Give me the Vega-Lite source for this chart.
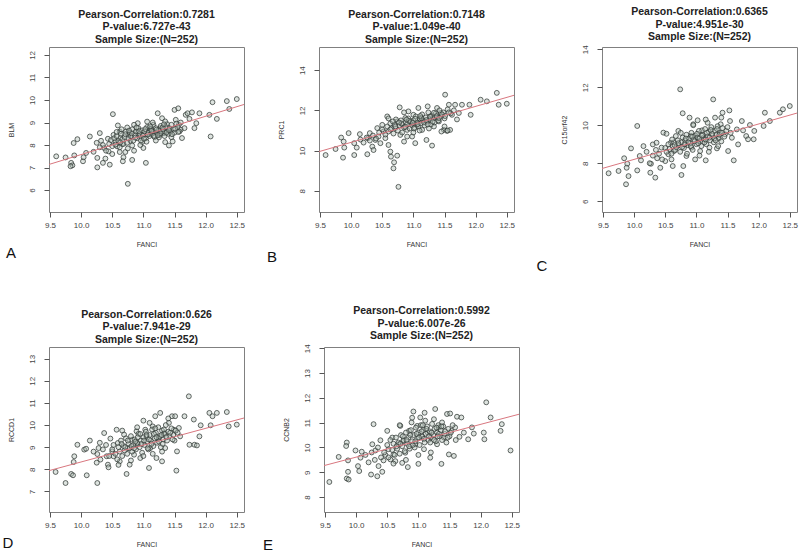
{
"$schema": "https://vega.github.io/schema/vega-lite/v6.json",
"background": "white",
"padding": {"left": 2, "top": 6, "right": 0, "bottom": 0},
"spacing": 30,
"datasets": {
"A": [
{"x":9.60,"y":7.50},{"x":9.75,"y":7.45},{"x":9.89,"y":7.54},{"x":9.88,"y":8.09},{"x":9.94,"y":8.26},{"x":9.84,"y":7.21},{"x":9.86,"y":7.10},{"x":9.83,"y":7.06},{"x":10.03,"y":7.28},{"x":10.04,"y":7.46},{"x":10.08,"y":7.65},{"x":10.14,"y":8.38},{"x":10.26,"y":7.43},{"x":10.26,"y":7.01},{"x":10.30,"y":8.53},{"x":10.32,"y":8.19},{"x":10.35,"y":7.21},{"x":10.39,"y":7.40},{"x":10.37,"y":7.87},{"x":10.43,"y":8.28},{"x":10.46,"y":7.13},{"x":10.44,"y":7.72},{"x":10.51,"y":9.37},{"x":10.52,"y":8.45},{"x":10.55,"y":8.16},{"x":10.58,"y":7.94},{"x":10.59,"y":8.87},{"x":10.62,"y":8.60},{"x":10.63,"y":8.31},{"x":10.66,"y":8.04},{"x":10.62,"y":7.69},{"x":10.68,"y":7.46},{"x":10.71,"y":7.69},{"x":10.67,"y":7.28},{"x":10.75,"y":6.28},{"x":10.74,"y":8.78},{"x":10.76,"y":8.45},{"x":10.79,"y":8.19},{"x":10.82,"y":7.98},{"x":10.85,"y":7.75},{"x":10.82,"y":7.34},{"x":10.90,"y":8.60},{"x":10.91,"y":8.97},{"x":10.95,"y":8.38},{"x":10.98,"y":8.13},{"x":11.00,"y":7.87},{"x":11.04,"y":7.21},{"x":11.06,"y":9.04},{"x":11.09,"y":8.75},{"x":11.11,"y":8.48},{"x":11.16,"y":8.90},{"x":11.19,"y":8.57},{"x":11.23,"y":9.41},{"x":11.25,"y":8.34},{"x":11.27,"y":8.75},{"x":11.30,"y":9.19},{"x":11.33,"y":8.53},{"x":11.35,"y":8.13},{"x":11.38,"y":8.93},{"x":11.41,"y":7.98},{"x":11.43,"y":8.60},{"x":11.47,"y":8.16},{"x":11.50,"y":9.56},{"x":11.52,"y":9.12},{"x":11.56,"y":9.63},{"x":11.57,"y":8.90},{"x":11.60,"y":8.68},{"x":11.62,"y":8.31},{"x":11.66,"y":8.75},{"x":11.68,"y":9.34},{"x":11.71,"y":9.41},{"x":11.74,"y":9.16},{"x":11.78,"y":9.45},{"x":11.82,"y":8.75},{"x":11.85,"y":8.97},{"x":11.90,"y":9.41},{"x":12.06,"y":9.34},{"x":12.08,"y":8.38},{"x":12.11,"y":9.90},{"x":12.18,"y":9.16},{"x":12.34,"y":9.95},{"x":12.38,"y":9.60},{"x":12.50,"y":10.04},
{"x":10.45,"y":8.05},{"x":10.48,"y":8.22},{"x":10.50,"y":7.95},{"x":10.53,"y":8.30},{"x":10.55,"y":8.02},{"x":10.57,"y":8.40},{"x":10.60,"y":8.18},{"x":10.62,"y":7.90},{"x":10.64,"y":8.50},{"x":10.66,"y":8.25},{"x":10.68,"y":8.05},{"x":10.70,"y":8.35},{"x":10.72,"y":8.60},{"x":10.74,"y":8.10},{"x":10.76,"y":8.30},{"x":10.78,"y":8.55},{"x":10.80,"y":8.40},{"x":10.82,"y":8.70},{"x":10.84,"y":8.20},{"x":10.86,"y":8.45},{"x":10.88,"y":8.60},{"x":10.90,"y":8.30},{"x":10.92,"y":8.75},{"x":10.94,"y":8.50},{"x":10.96,"y":8.20},{"x":10.98,"y":8.65},{"x":11.00,"y":8.45},{"x":11.02,"y":8.60},{"x":11.04,"y":8.30},{"x":11.06,"y":8.80},{"x":11.08,"y":8.55},{"x":11.10,"y":8.40},{"x":11.12,"y":8.70},{"x":11.14,"y":8.50},{"x":11.16,"y":8.60},{"x":11.18,"y":8.35},{"x":11.20,"y":8.75},{"x":11.22,"y":8.55},{"x":11.24,"y":8.65},{"x":11.26,"y":8.45},{"x":11.28,"y":8.85},{"x":11.30,"y":8.60},{"x":11.32,"y":8.70},{"x":11.34,"y":8.40},{"x":11.36,"y":8.80},{"x":11.38,"y":8.60},{"x":11.40,"y":8.50},{"x":11.42,"y":8.75},{"x":11.45,"y":8.90},{"x":11.48,"y":8.70},{"x":11.50,"y":8.55},{"x":11.53,"y":8.95},{"x":11.55,"y":8.80},{"x":11.58,"y":8.60},{"x":11.60,"y":9.00},{"x":10.35,"y":8.00},{"x":10.40,"y":7.75},{"x":10.30,"y":7.90},{"x":10.20,"y":7.70},{"x":10.25,"y":8.10},{"x":10.95,"y":8.00},{"x":11.05,"y":8.15},{"x":10.85,"y":8.90},{"x":11.15,"y":9.00},{"x":11.20,"y":8.20},{"x":10.65,"y":8.70},{"x":10.50,"y":7.60},{"x":10.75,"y":7.85},{"x":11.35,"y":9.05},{"x":11.45,"y":8.35},
{"x":10.81,"y":8.52},{"x":10.87,"y":8.33},{"x":10.93,"y":8.62},{"x":10.99,"y":8.41},{"x":11.03,"y":8.71},{"x":11.07,"y":8.47},{"x":11.13,"y":8.63},{"x":11.17,"y":8.41},{"x":11.21,"y":8.68},{"x":11.27,"y":8.52},{"x":11.31,"y":8.78},{"x":11.37,"y":8.55},{"x":11.41,"y":8.66},{"x":11.46,"y":8.48},{"x":11.51,"y":8.72},{"x":10.71,"y":8.48},{"x":10.77,"y":8.64},{"x":10.89,"y":8.78},{"x":11.01,"y":8.28},{"x":11.11,"y":8.83},{"x":11.23,"y":8.44},{"x":11.33,"y":8.92},{"x":10.63,"y":8.12},{"x":10.57,"y":8.58},{"x":11.56,"y":8.58}
],
"B": [
{"x":9.59,"y":9.78},{"x":9.75,"y":10.08},{"x":9.87,"y":9.65},{"x":9.84,"y":10.65},{"x":9.88,"y":10.45},{"x":9.89,"y":10.15},{"x":9.96,"y":10.87},{"x":10.05,"y":9.78},{"x":10.05,"y":10.37},{"x":10.09,"y":10.15},{"x":10.14,"y":10.82},{"x":10.26,"y":9.82},{"x":10.27,"y":10.62},{"x":10.30,"y":10.87},{"x":10.34,"y":10.20},{"x":10.36,"y":10.03},{"x":10.39,"y":10.53},{"x":10.42,"y":11.12},{"x":10.44,"y":10.70},{"x":10.47,"y":10.37},{"x":10.50,"y":11.28},{"x":10.52,"y":10.95},{"x":10.55,"y":10.62},{"x":10.58,"y":11.70},{"x":10.60,"y":10.28},{"x":10.63,"y":9.95},{"x":10.64,"y":9.70},{"x":10.69,"y":9.42},{"x":10.68,"y":9.12},{"x":10.74,"y":9.75},{"x":10.76,"y":8.20},{"x":10.78,"y":12.15},{"x":10.71,"y":11.12},{"x":10.74,"y":11.45},{"x":10.79,"y":10.78},{"x":10.82,"y":11.28},{"x":10.85,"y":10.45},{"x":10.87,"y":11.62},{"x":10.90,"y":11.03},{"x":10.92,"y":11.95},{"x":10.95,"y":11.37},{"x":10.98,"y":10.70},{"x":11.00,"y":11.78},{"x":11.03,"y":10.37},{"x":11.06,"y":11.28},{"x":11.08,"y":12.12},{"x":11.11,"y":11.53},{"x":11.14,"y":11.03},{"x":11.21,"y":10.53},{"x":11.23,"y":12.20},{"x":11.27,"y":11.70},{"x":11.30,"y":10.25},{"x":11.33,"y":11.20},{"x":11.38,"y":12.12},{"x":11.41,"y":11.45},{"x":11.44,"y":11.87},{"x":11.51,"y":12.78},{"x":11.49,"y":11.03},{"x":11.54,"y":10.98},{"x":11.57,"y":12.28},{"x":11.59,"y":11.03},{"x":11.62,"y":11.78},{"x":11.67,"y":12.28},{"x":11.73,"y":11.87},{"x":11.78,"y":12.28},{"x":11.90,"y":12.28},{"x":11.92,"y":11.78},{"x":12.08,"y":12.53},{"x":12.18,"y":12.45},{"x":12.34,"y":12.87},{"x":12.37,"y":12.28},{"x":12.50,"y":12.33},
{"x":10.45,"y":10.90},{"x":10.50,"y":11.05},{"x":10.55,"y":10.80},{"x":10.58,"y":11.20},{"x":10.60,"y":10.95},{"x":10.63,"y":11.35},{"x":10.65,"y":11.10},{"x":10.68,"y":10.85},{"x":10.70,"y":11.30},{"x":10.72,"y":11.55},{"x":10.75,"y":11.00},{"x":10.78,"y":11.25},{"x":10.80,"y":11.50},{"x":10.82,"y":10.90},{"x":10.85,"y":11.15},{"x":10.88,"y":11.40},{"x":10.90,"y":11.30},{"x":10.92,"y":11.60},{"x":10.94,"y":11.10},{"x":10.96,"y":11.45},{"x":10.98,"y":11.25},{"x":11.00,"y":11.50},{"x":11.02,"y":11.15},{"x":11.04,"y":11.70},{"x":11.06,"y":11.40},{"x":11.08,"y":11.20},{"x":11.10,"y":11.60},{"x":11.12,"y":11.35},{"x":11.14,"y":11.80},{"x":11.16,"y":11.50},{"x":11.18,"y":11.25},{"x":11.20,"y":11.65},{"x":11.22,"y":11.45},{"x":11.24,"y":11.90},{"x":11.26,"y":11.55},{"x":11.28,"y":11.30},{"x":11.30,"y":11.75},{"x":11.32,"y":11.60},{"x":11.34,"y":11.40},{"x":11.36,"y":11.85},{"x":11.38,"y":11.65},{"x":11.40,"y":11.50},{"x":11.42,"y":12.00},{"x":11.45,"y":11.70},{"x":11.48,"y":11.90},{"x":11.50,"y":11.60},{"x":11.55,"y":12.05},{"x":11.60,"y":11.85},{"x":10.40,"y":10.60},{"x":10.35,"y":10.75},{"x":10.30,"y":10.50},{"x":10.20,"y":10.40},{"x":10.25,"y":10.65},{"x":10.15,"y":10.55},{"x":11.00,"y":10.90},{"x":11.10,"y":11.00},{"x":10.90,"y":10.70},{"x":11.25,"y":11.10},{"x":11.50,"y":11.20},{"x":11.45,"y":10.95},{"x":11.55,"y":11.00},{"x":10.60,"y":11.60},{"x":10.85,"y":11.90},{"x":11.65,"y":12.00},{"x":11.70,"y":11.55},
{"x":10.81,"y":11.35},{"x":10.87,"y":11.18},{"x":10.93,"y":11.48},{"x":10.99,"y":11.38},{"x":11.03,"y":11.58},{"x":11.07,"y":11.32},{"x":11.13,"y":11.62},{"x":11.17,"y":11.40},{"x":11.21,"y":11.52},{"x":11.27,"y":11.68},{"x":11.31,"y":11.44},{"x":11.37,"y":11.72},{"x":11.41,"y":11.62},{"x":11.46,"y":11.80},{"x":11.51,"y":11.72},{"x":10.71,"y":11.20},{"x":10.77,"y":11.40},{"x":10.89,"y":11.55},{"x":11.01,"y":11.10},{"x":11.11,"y":11.72},{"x":11.23,"y":11.30},{"x":11.33,"y":11.88},{"x":10.63,"y":11.05},{"x":10.67,"y":11.45},{"x":11.57,"y":11.90}
],
"C": [
{"x":9.59,"y":7.47},{"x":9.75,"y":7.59},{"x":9.87,"y":6.89},{"x":9.84,"y":8.26},{"x":9.89,"y":7.97},{"x":9.91,"y":7.32},{"x":9.88,"y":7.76},{"x":9.95,"y":8.78},{"x":10.05,"y":9.96},{"x":10.05,"y":7.62},{"x":10.09,"y":8.38},{"x":10.11,"y":8.15},{"x":10.15,"y":8.90},{"x":10.26,"y":7.50},{"x":10.27,"y":7.97},{"x":10.30,"y":8.99},{"x":10.34,"y":7.24},{"x":10.36,"y":9.08},{"x":10.37,"y":8.26},{"x":10.42,"y":7.76},{"x":10.44,"y":8.82},{"x":10.47,"y":9.61},{"x":10.50,"y":8.11},{"x":10.52,"y":9.55},{"x":10.55,"y":8.47},{"x":10.59,"y":9.08},{"x":10.62,"y":7.85},{"x":10.64,"y":8.64},{"x":10.67,"y":9.43},{"x":10.71,"y":9.70},{"x":10.74,"y":11.89},{"x":10.76,"y":7.38},{"x":10.78,"y":10.63},{"x":10.79,"y":7.85},{"x":10.82,"y":8.99},{"x":10.84,"y":8.38},{"x":10.89,"y":10.40},{"x":10.91,"y":9.43},{"x":10.92,"y":8.82},{"x":10.95,"y":10.05},{"x":10.98,"y":8.20},{"x":11.02,"y":10.26},{"x":11.03,"y":9.17},{"x":11.06,"y":8.64},{"x":11.09,"y":9.73},{"x":11.11,"y":9.34},{"x":11.15,"y":8.15},{"x":11.18,"y":10.13},{"x":11.21,"y":8.82},{"x":11.27,"y":11.36},{"x":11.30,"y":10.40},{"x":11.33,"y":8.78},{"x":11.35,"y":9.34},{"x":11.39,"y":10.05},{"x":11.42,"y":10.66},{"x":11.46,"y":9.52},{"x":11.51,"y":8.64},{"x":11.53,"y":10.78},{"x":11.54,"y":10.22},{"x":11.57,"y":9.34},{"x":11.60,"y":8.15},{"x":11.65,"y":9.78},{"x":11.67,"y":8.99},{"x":11.73,"y":10.22},{"x":11.75,"y":9.73},{"x":11.80,"y":9.43},{"x":11.83,"y":9.26},{"x":11.86,"y":10.01},{"x":11.92,"y":9.26},{"x":11.93,"y":9.70},{"x":12.08,"y":9.96},{"x":12.10,"y":10.66},{"x":12.18,"y":10.22},{"x":12.34,"y":10.66},{"x":12.39,"y":10.84},{"x":12.50,"y":11.01},
{"x":10.50,"y":8.80},{"x":10.52,"y":8.60},{"x":10.55,"y":9.00},{"x":10.57,"y":8.75},{"x":10.60,"y":8.50},{"x":10.62,"y":8.90},{"x":10.64,"y":9.10},{"x":10.66,"y":8.70},{"x":10.68,"y":8.85},{"x":10.70,"y":9.20},{"x":10.72,"y":8.95},{"x":10.74,"y":8.60},{"x":10.76,"y":9.10},{"x":10.78,"y":9.35},{"x":10.80,"y":8.80},{"x":10.82,"y":9.20},{"x":10.84,"y":9.50},{"x":10.86,"y":8.95},{"x":10.88,"y":9.30},{"x":10.90,"y":9.05},{"x":10.92,"y":9.60},{"x":10.94,"y":8.70},{"x":10.96,"y":9.25},{"x":10.98,"y":9.45},{"x":11.00,"y":9.00},{"x":11.02,"y":9.35},{"x":11.04,"y":9.70},{"x":11.06,"y":9.15},{"x":11.08,"y":8.90},{"x":11.10,"y":9.50},{"x":11.12,"y":9.25},{"x":11.14,"y":9.80},{"x":11.16,"y":9.00},{"x":11.18,"y":9.40},{"x":11.20,"y":9.65},{"x":11.22,"y":9.20},{"x":11.24,"y":9.90},{"x":11.26,"y":9.45},{"x":11.28,"y":9.10},{"x":11.30,"y":9.70},{"x":11.32,"y":9.50},{"x":11.34,"y":9.95},{"x":11.36,"y":9.30},{"x":11.38,"y":9.60},{"x":11.40,"y":9.15},{"x":11.42,"y":9.85},{"x":11.45,"y":9.40},{"x":11.48,"y":9.70},{"x":10.40,"y":8.50},{"x":10.45,"y":8.20},{"x":10.35,"y":8.70},{"x":10.30,"y":8.40},{"x":10.20,"y":8.60},{"x":10.25,"y":8.00},{"x":10.60,"y":8.20},{"x":10.85,"y":8.50},{"x":11.05,"y":8.40},{"x":11.20,"y":8.60},{"x":11.35,"y":8.90},{"x":10.95,"y":10.00},{"x":11.15,"y":10.30},{"x":10.75,"y":9.60},{"x":11.40,"y":10.40},{"x":11.50,"y":9.90},{"x":11.55,"y":9.60},
{"x":10.71,"y":9.05},{"x":10.77,"y":8.85},{"x":10.83,"y":9.30},{"x":10.87,"y":9.10},{"x":10.93,"y":9.40},{"x":10.97,"y":9.15},{"x":11.01,"y":9.55},{"x":11.05,"y":9.30},{"x":11.09,"y":9.45},{"x":11.13,"y":9.10},{"x":11.17,"y":9.60},{"x":11.21,"y":9.35},{"x":11.25,"y":9.55},{"x":11.29,"y":9.30},{"x":11.33,"y":9.80},{"x":11.37,"y":9.50},{"x":10.81,"y":9.00},{"x":10.91,"y":8.90},{"x":11.03,"y":9.05},{"x":11.15,"y":9.25},{"x":11.23,"y":9.75},{"x":11.31,"y":9.20},{"x":10.65,"y":8.95},{"x":10.61,"y":9.25},{"x":11.41,"y":9.60}
],
"D": [
{"x":9.59,"y":7.88},{"x":9.75,"y":7.38},{"x":9.84,"y":7.79},{"x":9.87,"y":7.73},{"x":9.89,"y":8.59},{"x":9.88,"y":8.33},{"x":9.94,"y":9.11},{"x":10.05,"y":8.89},{"x":10.08,"y":8.93},{"x":10.09,"y":7.73},{"x":10.14,"y":9.30},{"x":10.26,"y":7.38},{"x":10.26,"y":8.69},{"x":10.28,"y":8.96},{"x":10.31,"y":8.44},{"x":10.37,"y":9.64},{"x":10.41,"y":8.59},{"x":10.43,"y":8.21},{"x":10.44,"y":8.09},{"x":10.47,"y":9.39},{"x":10.50,"y":8.81},{"x":10.52,"y":8.59},{"x":10.57,"y":9.79},{"x":10.59,"y":9.19},{"x":10.62,"y":8.36},{"x":10.66,"y":9.75},{"x":10.69,"y":9.57},{"x":10.73,"y":7.79},{"x":10.75,"y":8.96},{"x":10.78,"y":8.21},{"x":10.82,"y":9.34},{"x":10.85,"y":8.66},{"x":10.89,"y":9.72},{"x":10.91,"y":9.14},{"x":10.95,"y":8.51},{"x":11.00,"y":10.20},{"x":11.03,"y":9.79},{"x":11.05,"y":9.49},{"x":11.09,"y":8.06},{"x":11.11,"y":8.96},{"x":11.15,"y":9.94},{"x":11.19,"y":10.40},{"x":11.21,"y":8.51},{"x":11.25,"y":9.42},{"x":11.27,"y":10.55},{"x":11.30,"y":8.36},{"x":11.33,"y":9.64},{"x":11.35,"y":8.96},{"x":11.41,"y":10.10},{"x":11.46,"y":10.40},{"x":11.49,"y":9.79},{"x":11.51,"y":10.40},{"x":11.53,"y":7.94},{"x":11.54,"y":8.81},{"x":11.57,"y":9.87},{"x":11.59,"y":9.49},{"x":11.66,"y":10.40},{"x":11.73,"y":11.30},{"x":11.74,"y":9.11},{"x":11.81,"y":10.25},{"x":11.82,"y":9.11},{"x":11.86,"y":9.08},{"x":11.90,"y":9.49},{"x":11.92,"y":9.99},{"x":12.06,"y":10.55},{"x":12.08,"y":9.99},{"x":12.11,"y":10.40},{"x":12.18,"y":10.55},{"x":12.34,"y":10.59},{"x":12.37,"y":9.94},{"x":12.50,"y":10.02},
{"x":10.45,"y":8.60},{"x":10.50,"y":8.90},{"x":10.52,"y":9.10},{"x":10.55,"y":8.70},{"x":10.58,"y":8.45},{"x":10.60,"y":9.00},{"x":10.62,"y":8.80},{"x":10.64,"y":9.30},{"x":10.66,"y":8.60},{"x":10.68,"y":9.05},{"x":10.70,"y":8.85},{"x":10.72,"y":9.40},{"x":10.74,"y":8.70},{"x":10.76,"y":9.15},{"x":10.78,"y":8.95},{"x":10.80,"y":9.50},{"x":10.82,"y":8.80},{"x":10.84,"y":9.10},{"x":10.86,"y":9.35},{"x":10.88,"y":8.90},{"x":10.90,"y":9.20},{"x":10.92,"y":9.60},{"x":10.94,"y":9.00},{"x":10.96,"y":9.30},{"x":10.98,"y":8.75},{"x":11.00,"y":9.45},{"x":11.02,"y":9.10},{"x":11.04,"y":9.70},{"x":11.06,"y":9.25},{"x":11.08,"y":8.90},{"x":11.10,"y":9.55},{"x":11.12,"y":9.30},{"x":11.14,"y":9.80},{"x":11.16,"y":9.05},{"x":11.18,"y":9.40},{"x":11.20,"y":9.65},{"x":11.22,"y":9.20},{"x":11.24,"y":9.90},{"x":11.26,"y":9.50},{"x":11.28,"y":9.00},{"x":11.30,"y":9.75},{"x":11.32,"y":9.35},{"x":11.34,"y":9.60},{"x":11.36,"y":10.00},{"x":11.38,"y":9.30},{"x":11.40,"y":9.70},{"x":11.42,"y":9.50},{"x":11.45,"y":9.85},{"x":11.48,"y":9.55},{"x":11.50,"y":9.30},{"x":11.55,"y":9.65},{"x":10.40,"y":9.10},{"x":10.35,"y":8.90},{"x":10.30,"y":9.20},{"x":10.20,"y":8.80},{"x":10.25,"y":8.30},{"x":10.60,"y":8.20},{"x":10.80,"y":8.40},{"x":11.00,"y":8.60},{"x":11.15,"y":8.70},{"x":11.30,"y":8.80},{"x":10.90,"y":9.90},{"x":11.10,"y":10.10},{"x":11.40,"y":10.30},
{"x":10.81,"y":9.05},{"x":10.87,"y":9.25},{"x":10.91,"y":9.45},{"x":10.97,"y":9.15},{"x":11.01,"y":9.30},{"x":11.05,"y":9.55},{"x":11.09,"y":9.35},{"x":11.13,"y":9.15},{"x":11.17,"y":9.60},{"x":11.21,"y":9.45},{"x":11.25,"y":9.25},{"x":11.29,"y":9.55},{"x":11.33,"y":9.80},{"x":11.37,"y":9.45},{"x":11.43,"y":9.65},{"x":11.47,"y":9.35},{"x":10.71,"y":9.00},{"x":10.75,"y":9.30},{"x":10.85,"y":8.95},{"x":10.95,"y":9.60},{"x":11.07,"y":8.95},{"x":11.19,"y":9.85},{"x":11.31,"y":9.15},{"x":10.65,"y":9.15},{"x":11.52,"y":9.75}
],
"E": [
{"x":9.57,"y":8.61},{"x":9.72,"y":9.62},{"x":9.85,"y":10.20},{"x":9.84,"y":10.06},{"x":9.87,"y":9.48},{"x":9.87,"y":9.02},{"x":9.85,"y":8.75},{"x":9.88,"y":8.71},{"x":9.99,"y":9.88},{"x":10.03,"y":9.25},{"x":10.07,"y":9.59},{"x":10.09,"y":9.83},{"x":10.05,"y":9.05},{"x":10.15,"y":9.70},{"x":10.24,"y":8.91},{"x":10.28,"y":10.94},{"x":10.26,"y":10.13},{"x":10.31,"y":9.88},{"x":10.34,"y":8.84},{"x":10.36,"y":9.25},{"x":10.39,"y":10.29},{"x":10.42,"y":9.02},{"x":10.44,"y":9.48},{"x":10.47,"y":9.70},{"x":10.50,"y":10.67},{"x":10.52,"y":9.93},{"x":10.55,"y":9.52},{"x":10.58,"y":10.40},{"x":10.60,"y":9.72},{"x":10.63,"y":9.45},{"x":10.68,"y":10.13},{"x":10.71,"y":10.87},{"x":10.74,"y":9.38},{"x":10.76,"y":10.26},{"x":10.79,"y":9.79},{"x":10.83,"y":9.21},{"x":10.85,"y":10.67},{"x":10.89,"y":11.01},{"x":10.92,"y":11.45},{"x":10.95,"y":10.13},{"x":10.98,"y":10.87},{"x":11.00,"y":9.34},{"x":11.03,"y":11.21},{"x":11.06,"y":10.43},{"x":11.09,"y":9.93},{"x":11.11,"y":11.08},{"x":11.15,"y":10.60},{"x":11.19,"y":9.59},{"x":11.25,"y":11.14},{"x":11.27,"y":11.55},{"x":11.30,"y":10.13},{"x":11.33,"y":10.81},{"x":11.37,"y":9.34},{"x":11.38,"y":11.01},{"x":11.41,"y":10.40},{"x":11.46,"y":11.35},{"x":11.49,"y":9.72},{"x":11.51,"y":11.37},{"x":11.53,"y":10.67},{"x":11.57,"y":9.66},{"x":11.59,"y":10.81},{"x":11.62,"y":11.24},{"x":11.66,"y":10.43},{"x":11.69,"y":11.21},{"x":11.73,"y":10.60},{"x":11.80,"y":10.33},{"x":11.86,"y":10.81},{"x":11.89,"y":10.56},{"x":12.05,"y":10.60},{"x":12.06,"y":10.33},{"x":12.09,"y":11.82},{"x":12.16,"y":11.21},{"x":12.32,"y":10.67},{"x":12.34,"y":10.94},{"x":12.48,"y":9.88},
{"x":10.45,"y":9.80},{"x":10.50,"y":10.10},{"x":10.52,"y":9.60},{"x":10.55,"y":10.30},{"x":10.58,"y":9.90},{"x":10.60,"y":10.15},{"x":10.62,"y":9.70},{"x":10.64,"y":10.40},{"x":10.66,"y":9.95},{"x":10.68,"y":10.20},{"x":10.70,"y":9.75},{"x":10.72,"y":10.50},{"x":10.74,"y":10.05},{"x":10.76,"y":10.30},{"x":10.78,"y":9.85},{"x":10.80,"y":10.60},{"x":10.82,"y":10.15},{"x":10.84,"y":10.40},{"x":10.86,"y":9.95},{"x":10.88,"y":10.70},{"x":10.90,"y":10.25},{"x":10.92,"y":10.50},{"x":10.94,"y":10.00},{"x":10.96,"y":10.80},{"x":10.98,"y":10.35},{"x":11.00,"y":10.60},{"x":11.02,"y":10.10},{"x":11.04,"y":10.90},{"x":11.06,"y":10.45},{"x":11.08,"y":10.70},{"x":11.10,"y":10.20},{"x":11.12,"y":10.55},{"x":11.14,"y":10.85},{"x":11.16,"y":10.30},{"x":11.18,"y":10.65},{"x":11.20,"y":10.40},{"x":11.22,"y":10.95},{"x":11.24,"y":10.50},{"x":11.26,"y":10.75},{"x":11.28,"y":10.25},{"x":11.30,"y":10.60},{"x":11.32,"y":10.90},{"x":11.34,"y":10.45},{"x":11.36,"y":10.70},{"x":11.38,"y":10.30},{"x":11.40,"y":10.85},{"x":11.42,"y":10.55},{"x":11.45,"y":10.20},{"x":11.48,"y":10.75},{"x":11.50,"y":10.45},{"x":11.55,"y":10.90},{"x":11.60,"y":10.30},{"x":10.40,"y":9.60},{"x":10.35,"y":10.00},{"x":10.30,"y":9.50},{"x":10.20,"y":9.40},{"x":10.25,"y":9.80},{"x":10.60,"y":9.35},{"x":10.80,"y":9.50},{"x":11.00,"y":9.70},{"x":11.20,"y":9.80},{"x":10.90,"y":11.20},{"x":11.10,"y":11.40},{"x":10.70,"y":10.90},
{"x":10.81,"y":10.30},{"x":10.87,"y":10.50},{"x":10.91,"y":10.10},{"x":10.97,"y":10.55},{"x":11.01,"y":10.40},{"x":11.05,"y":10.65},{"x":11.09,"y":10.35},{"x":11.13,"y":10.75},{"x":11.17,"y":10.45},{"x":11.21,"y":10.60},{"x":11.25,"y":10.30},{"x":11.29,"y":10.80},{"x":11.33,"y":10.55},{"x":11.37,"y":10.85},{"x":11.43,"y":10.65},{"x":11.47,"y":10.40},{"x":10.71,"y":10.15},{"x":10.75,"y":10.45},{"x":10.85,"y":10.05},{"x":10.95,"y":10.25},{"x":11.07,"y":10.90},{"x":11.19,"y":10.20},{"x":11.31,"y":10.45},{"x":10.65,"y":10.05},{"x":11.52,"y":10.60}
],
"lines": [
{"p":"A","x":9.484,"y":7.14},{"p":"A","x":12.616,"y":9.80},
{"p":"B","x":9.484,"y":9.95},{"p":"B","x":12.616,"y":12.75},
{"p":"C","x":9.484,"y":7.72},{"p":"C","x":12.616,"y":10.64},
{"p":"D","x":9.484,"y":7.94},{"p":"D","x":12.616,"y":10.32},
{"p":"E","x":9.484,"y":9.27},{"p":"E","x":12.616,"y":11.34}
]
},
"vconcat": [
{"hconcat": [
{"width":195,"height":165,
 "title":{"text":["Pearson-Correlation:0.7281","P-value:6.727e-43","Sample Size:(N=252)"]},
 "layer":[
  {"data":{"name":"A"},"mark":{"type":"point","shape":"circle","size":24,"filled":true,"fill":"#b4c0b8","fillOpacity":0.45,"stroke":"#333b37","strokeWidth":0.9,"strokeOpacity":0.85},
   "encoding":{"x":{"field":"x","type":"quantitative","scale":{"domain":[9.484,12.616],"nice":false,"zero":false},"axis":{"values":[9.5,10,10.5,11,11.5,12,12.5],"tickCount":20,"format":".1f","labelOverlap":false,"title":"FANCI"}},
   "y":{"field":"y","type":"quantitative","scale":{"domain":[5.03,12.35],"nice":false,"zero":false},"axis":{"values":[6,7,8,9,10,11,12],"tickCount":20,"format":"d","labelOverlap":false,"title":"BLM"}}}},
  {"data":{"name":"lines"},"transform":[{"filter":"datum.p == 'A'"}],"mark":{"type":"line","color":"#d9777f","strokeWidth":1},"encoding":{"x":{"field":"x","type":"quantitative"},"y":{"field":"y","type":"quantitative"}}},
  {"data":{"values":[{"t":"A"}]},"mark":{"type":"text","fontSize":15,"font":"Liberation Sans","align":"center","baseline":"middle","dx":-38,"dy":41,"color":"#111"},"encoding":{"x":{"datum":9.484},"y":{"datum":5.03},"text":{"field":"t"}}}
 ]},
{"width":195,"height":165,
 "title":{"text":["Pearson-Correlation:0.7148","P-value:1.049e-40","Sample Size:(N=252)"]},
 "layer":[
  {"data":{"name":"B"},"mark":{"type":"point","shape":"circle","size":24,"filled":true,"fill":"#b4c0b8","fillOpacity":0.45,"stroke":"#333b37","strokeWidth":0.9,"strokeOpacity":0.85},
   "encoding":{"x":{"field":"x","type":"quantitative","scale":{"domain":[9.484,12.616],"nice":false,"zero":false},"axis":{"values":[9.5,10,10.5,11,11.5,12,12.5],"tickCount":20,"format":".1f","labelOverlap":false,"title":"FANCI"}},
   "y":{"field":"y","type":"quantitative","scale":{"domain":[6.95,15.15],"nice":false,"zero":false},"axis":{"values":[8,10,12,14],"tickCount":20,"format":"d","labelOverlap":false,"title":"PRC1"}}}},
  {"data":{"name":"lines"},"transform":[{"filter":"datum.p == 'B'"}],"mark":{"type":"line","color":"#d9777f","strokeWidth":1},"encoding":{"x":{"field":"x","type":"quantitative"},"y":{"field":"y","type":"quantitative"}}},
  {"data":{"values":[{"t":"B"}]},"mark":{"type":"text","fontSize":15,"font":"Liberation Sans","align":"center","baseline":"middle","dx":-47,"dy":45,"color":"#111"},"encoding":{"x":{"datum":9.484},"y":{"datum":6.95},"text":{"field":"t"}}}
 ]},
{"width":195,"height":165,
 "title":{"text":["Pearson-Correlation:0.6365","P-value:4.951e-30","Sample Size:(N=252)"]},
 "layer":[
  {"data":{"name":"C"},"mark":{"type":"point","shape":"circle","size":24,"filled":true,"fill":"#b4c0b8","fillOpacity":0.45,"stroke":"#333b37","strokeWidth":0.9,"strokeOpacity":0.85},
   "encoding":{"x":{"field":"x","type":"quantitative","scale":{"domain":[9.484,12.616],"nice":false,"zero":false},"axis":{"values":[9.5,10,10.5,11,11.5,12,12.5],"tickCount":20,"format":".1f","labelOverlap":false,"title":"FANCI"}},
   "y":{"field":"y","type":"quantitative","scale":{"domain":[5.43,14.12],"nice":false,"zero":false},"axis":{"values":[6,8,10,12,14],"tickCount":20,"format":"d","labelOverlap":false,"title":"C15orf42"}}}},
  {"data":{"name":"lines"},"transform":[{"filter":"datum.p == 'C'"}],"mark":{"type":"line","color":"#d9777f","strokeWidth":1},"encoding":{"x":{"field":"x","type":"quantitative"},"y":{"field":"y","type":"quantitative"}}},
  {"data":{"values":[{"t":"C"}]},"mark":{"type":"text","fontSize":15,"font":"Liberation Sans","align":"center","baseline":"middle","dx":-60,"dy":54,"color":"#111"},"encoding":{"x":{"datum":9.484},"y":{"datum":5.43},"text":{"field":"t"}}}
 ]}
], "spacing": 19},
{"hconcat": [
{"width":195,"height":165,
 "title":{"text":["Pearson-Correlation:0.626","P-value:7.941e-29","Sample Size:(N=252)"]},
 "layer":[
  {"data":{"name":"D"},"mark":{"type":"point","shape":"circle","size":24,"filled":true,"fill":"#b4c0b8","fillOpacity":0.45,"stroke":"#333b37","strokeWidth":0.9,"strokeOpacity":0.85},
   "encoding":{"x":{"field":"x","type":"quantitative","scale":{"domain":[9.484,12.616],"nice":false,"zero":false},"axis":{"values":[9.5,10,10.5,11,11.5,12,12.5],"tickCount":20,"format":".1f","labelOverlap":false,"title":"FANCI"}},
   "y":{"field":"y","type":"quantitative","scale":{"domain":[6.07,13.53],"nice":false,"zero":false},"axis":{"values":[7,8,9,10,11,12,13],"tickCount":20,"format":"d","labelOverlap":false,"title":"RCCD1"}}}},
  {"data":{"name":"lines"},"transform":[{"filter":"datum.p == 'D'"}],"mark":{"type":"line","color":"#d9777f","strokeWidth":1},"encoding":{"x":{"field":"x","type":"quantitative"},"y":{"field":"y","type":"quantitative"}}},
  {"data":{"values":[{"t":"D"}]},"mark":{"type":"text","fontSize":15,"font":"Liberation Sans","align":"center","baseline":"middle","dx":-41,"dy":31,"color":"#111"},"encoding":{"x":{"datum":9.484},"y":{"datum":6.07},"text":{"field":"t"}}}
 ]},
{"width":195,"height":165,
 "title":{"text":["Pearson-Correlation:0.5992","P-value:6.007e-26","Sample Size:(N=252)"]},
 "layer":[
  {"data":{"name":"E"},"mark":{"type":"point","shape":"circle","size":24,"filled":true,"fill":"#b4c0b8","fillOpacity":0.45,"stroke":"#333b37","strokeWidth":0.9,"strokeOpacity":0.85},
   "encoding":{"x":{"field":"x","type":"quantitative","scale":{"domain":[9.484,12.616],"nice":false,"zero":false},"axis":{"values":[9.5,10,10.5,11,11.5,12,12.5],"tickCount":20,"format":".1f","labelOverlap":false,"title":"FANCI"}},
   "y":{"field":"y","type":"quantitative","scale":{"domain":[7.4,14.05],"nice":false,"zero":false},"axis":{"values":[8,9,10,11,12,13,14],"tickCount":20,"format":"d","labelOverlap":false,"title":"CCNB2"}}}},
  {"data":{"name":"lines"},"transform":[{"filter":"datum.p == 'E'"}],"mark":{"type":"line","color":"#d9777f","strokeWidth":1},"encoding":{"x":{"field":"x","type":"quantitative"},"y":{"field":"y","type":"quantitative"}}},
  {"data":{"values":[{"t":"E"}]},"mark":{"type":"text","fontSize":15,"font":"Liberation Sans","align":"center","baseline":"middle","dx":-56,"dy":33,"color":"#111"},"encoding":{"x":{"datum":9.484},"y":{"datum":7.4},"text":{"field":"t"}}}
 ]}
], "spacing": 15}
],
"config": {
 "view": {"stroke": "#808080", "strokeWidth": 1},
 "title": {"font": "Liberation Sans", "fontSize": 10.5, "fontWeight": "bold", "color": "#222", "lineHeight": 12.5, "offset": 2, "anchor": "middle", "frame": "group"},
 "axis": {"domain": false, "grid": false, "ticks": true, "tickColor": "#555", "tickSize": 5, "labelFont": "Liberation Sans", "labelFontSize": 8, "labelColor": "#444", "labelFlush": false, "labelOverlap": false, "titleFont": "Liberation Sans", "titleFontSize": 7, "titleFontWeight": "normal", "titleColor": "#333"},
 "axisX": {"labelPadding": 4, "titlePadding": 11},
 "axisY": {"labelAngle": 270, "labelAlign": "center", "labelBaseline": "bottom", "labelPadding": 8, "titlePadding": 14}
}
}
